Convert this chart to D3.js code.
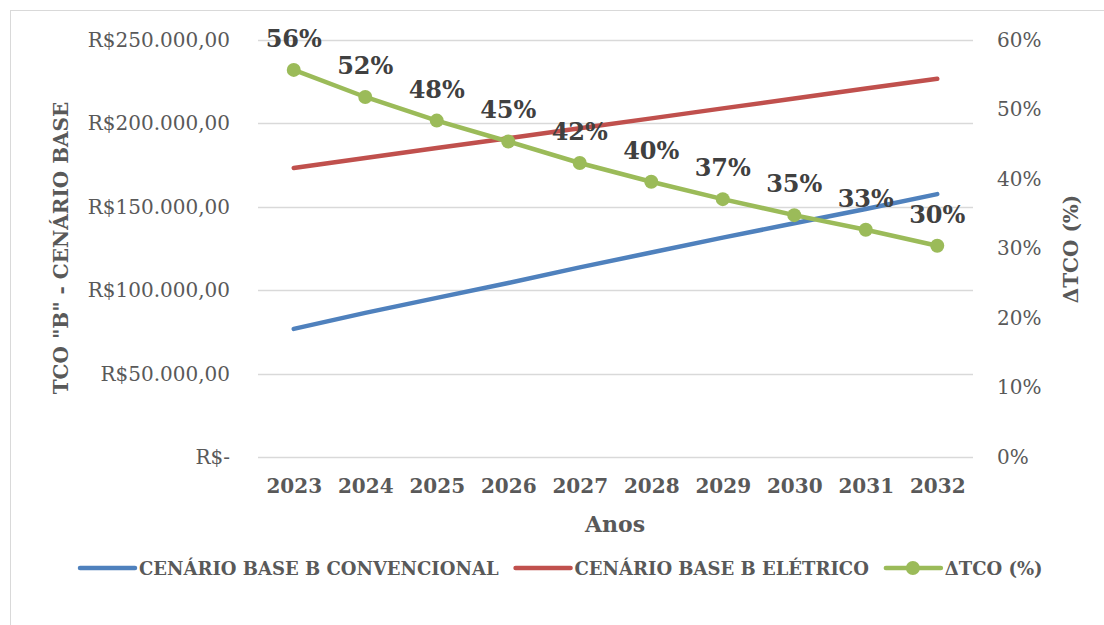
<html>
<head>
<script src="https://d3js.org/d3.v7.min.js"></script>
<style>
    body { margin: 0; background: #fff; }
    svg text { font-family: "DejaVu Serif", serif; fill: #595959; }
</style>
</head>
<body>
<svg width="1104" height="625"></svg>
<script>
    // chart data
    var anos = ["2023", "2024", "2025", "2026", "2027", "2028", "2029", "2030", "2031", "2032"];
    var convencional = [76800, 86400, 95400, 104300, 113700, 122600, 131500, 140100, 148700, 157600];
    var eletrico = [173300, 179200, 185200, 191100, 197100, 203000, 209000, 214900, 220900, 226800];
    var deltaTco = [0.557, 0.518, 0.484, 0.454, 0.423, 0.396, 0.371, 0.348, 0.327, 0.304];
    var leftTicks = [0, 50000, 100000, 150000, 200000, 250000];
    var rightTicks = [0, 0.1, 0.2, 0.3, 0.4, 0.5, 0.6];

    var blue = "#4F81BD", red = "#C0504D", green = "#9BBB59";

    var svg = d3.select("svg");

    // outer chart border
    svg.append("rect")
        .attr("x", 10.5).attr("y", 10.5)
        .attr("width", 1110).attr("height", 640)
        .attr("fill", "none").attr("stroke", "#D9D9D9");

    var plotL = 258, plotR = 973, plotT = 40, plotB = 457;

    var x = d3.scalePoint().domain(anos).range([plotL, plotR]).padding(0.5);
    var y = d3.scaleLinear().domain([0, 250000]).range([plotB, plotT]);
    var y2 = d3.scaleLinear().domain([0, 0.6]).range([plotB, plotT]);

    // gridlines
    svg.append("g").selectAll("line")
        .data(leftTicks).enter().append("line")
        .attr("x1", plotL).attr("x2", plotR)
        .attr("y1", function(d) { return Math.round(y(d)) + 0.5; })
        .attr("y2", function(d) { return Math.round(y(d)) + 0.5; })
        .attr("stroke", "#D9D9D9").attr("stroke-width", 1.5);

    // left axis
    var fmt = function(d) {
        if (d === 0) return "R$-";
        return "R$" + d3.format(",.2f")(d).replace(/,/g, "#").replace(".", ",").replace(/#/g, ".");
    };
    var yAxis = svg.append("g")
        .attr("transform", "translate(" + plotL + ",0)")
        .call(d3.axisLeft(y).tickValues(leftTicks).tickFormat(fmt).tickSize(0).tickPadding(28));
    yAxis.select(".domain").remove();
    yAxis.selectAll("text").attr("font-size", 20).attr("font-family", null).attr("fill", "#595959");

    // right axis
    var y2Axis = svg.append("g")
        .attr("transform", "translate(" + plotR + ",0)")
        .call(d3.axisRight(y2).tickValues(rightTicks).tickFormat(d3.format(".0%")).tickSize(0).tickPadding(24));
    y2Axis.select(".domain").remove();
    y2Axis.selectAll("text").attr("font-size", 20).attr("font-family", null).attr("fill", "#595959");

    // x axis
    var xAxis = svg.append("g")
        .attr("transform", "translate(0," + plotB + ")")
        .call(d3.axisBottom(x).tickSize(0).tickPadding(22));
    xAxis.select(".domain").remove();
    xAxis.selectAll("text").attr("font-size", 20).attr("font-weight", "bold")
        .attr("font-family", null).attr("fill", "#595959");

    // axis titles
    svg.append("text")
        .attr("transform", "translate(68,248) rotate(-90)")
        .attr("text-anchor", "middle")
        .attr("font-size", 20).attr("font-weight", "bold")
        .text('TCO "B" - CENÁRIO BASE');

    svg.append("text")
        .attr("transform", "translate(1078,249) rotate(-90)")
        .attr("text-anchor", "middle")
        .attr("font-size", 20).attr("font-weight", "bold")
        .text("ΔTCO (%)");

    svg.append("text")
        .attr("x", 615).attr("y", 532)
        .attr("text-anchor", "middle")
        .attr("font-size", 22).attr("font-weight", "bold")
        .text("Anos");

    // lines
    var line = function(sc) {
        return d3.line().x(function(d, i) { return x(anos[i]); }).y(function(d) { return sc(d); });
    };

    svg.append("path").datum(convencional)
        .attr("d", line(y)).attr("fill", "none")
        .attr("stroke", blue).attr("stroke-width", 4.5).attr("stroke-linecap", "round");

    svg.append("path").datum(eletrico)
        .attr("d", line(y)).attr("fill", "none")
        .attr("stroke", red).attr("stroke-width", 4.5).attr("stroke-linecap", "round");

    svg.append("path").datum(deltaTco)
        .attr("d", line(y2)).attr("fill", "none")
        .attr("stroke", green).attr("stroke-width", 4.5).attr("stroke-linecap", "round");

    svg.append("g").selectAll("circle")
        .data(deltaTco).enter().append("circle")
        .attr("cx", function(d, i) { return x(anos[i]); })
        .attr("cy", function(d) { return y2(d); })
        .attr("r", 7).attr("fill", green);

    // data labels
    svg.append("g").selectAll("text")
        .data(deltaTco).enter().append("text")
        .attr("x", function(d, i) { return x(anos[i]); })
        .attr("y", function(d) { return y2(d) - 23; })
        .attr("text-anchor", "middle")
        .attr("font-size", 24).attr("font-weight", "bold")
        .style("fill", "#404040")
        .text(function(d) { return Math.round(d * 100) + "%"; });

    // legend
    var legendItems = [
        { name: "CENÁRIO BASE B CONVENCIONAL", color: blue, marker: false },
        { name: "CENÁRIO BASE B ELÉTRICO", color: red, marker: false },
        { name: "ΔTCO (%)", color: green, marker: true }
    ];
    var lx = 80, ly = 568;
    legendItems.forEach(function(it) {
        svg.append("line")
            .attr("x1", lx).attr("x2", lx + 55)
            .attr("y1", ly).attr("y2", ly)
            .attr("stroke", it.color).attr("stroke-width", 4.5).attr("stroke-linecap", "round");
        if (it.marker) {
            svg.append("circle").attr("cx", lx + 27).attr("cy", ly).attr("r", 7).attr("fill", it.color);
        }
        var t = svg.append("text")
            .attr("x", lx + 59).attr("y", ly + 7)
            .attr("font-size", 18).attr("font-weight", "bold")
            .text(it.name);
        lx = lx + 59 + t.node().getComputedTextLength() + 17;
    });
</script>
</body>
</html>
